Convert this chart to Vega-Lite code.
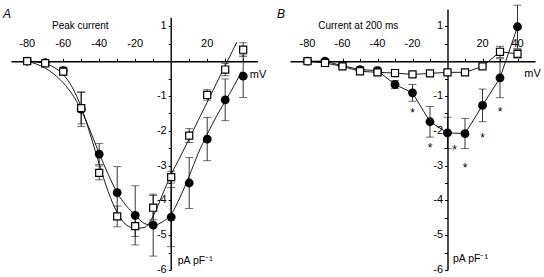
{
  "$schema": "https://vega.github.io/schema/vega-lite/v6.json",
  "padding": {"left": 3, "top": 4, "right": 0, "bottom": 0},
  "bounds": "flush",
  "spacing": 32,
  "config": {
    "view": {"stroke": null},
    "font": "Liberation Sans",
    "axis": {"tickColor": "black", "domainColor": "black", "titleColor": "black", "grid": false, "labels": false, "titleFontWeight": "normal", "titleFontSize": 11, "tickSize": 3, "tickWidth": 1, "domainWidth": 1.4, "labelOverlap": false, "tickCount": 100}
  },
  "datasets": {
    "xlab": [
      {"v": -80, "t": "-80"}, {"v": -60, "t": "-60"}, {"v": -40, "t": "-40"}, {"v": -20, "t": "-20"}, {"v": 20, "t": "20"}, {"v": 40, "t": "40"}
    ],
    "ylab": [
      {"v": -6, "t": "-6"}, {"v": -5, "t": "-5"}, {"v": -4, "t": "-4"}, {"v": -3, "t": "-3"}, {"v": -2, "t": "-2"}, {"v": -1, "t": "-1"}, {"v": 1, "t": "1"}
    ],
    "pk": [
      {"mv": -80, "g": "c", "i": 0, "lo": 0, "hi": 0},
      {"mv": -70, "g": "c", "i": -0.04, "lo": -0.04, "hi": -0.04},
      {"mv": -60, "g": "c", "i": -0.27, "lo": -0.37, "hi": -0.17},
      {"mv": -50, "g": "c", "i": -1.38, "lo": -1.88, "hi": -0.88},
      {"mv": -40, "g": "c", "i": -2.67, "lo": -2.97, "hi": -2.37},
      {"mv": -30, "g": "c", "i": -3.78, "lo": -4.53, "hi": -3.03},
      {"mv": -20, "g": "c", "i": -4.43, "lo": -5.28, "hi": -3.58},
      {"mv": -10, "g": "c", "i": -4.71, "lo": -5.6, "hi": -3.82},
      {"mv": 0, "g": "c", "i": -4.48, "lo": -5.33, "hi": -3.63},
      {"mv": 10, "g": "c", "i": -3.5, "lo": -4.23, "hi": -2.77},
      {"mv": 20, "g": "c", "i": -2.24, "lo": -2.86, "hi": -1.62},
      {"mv": 30, "g": "c", "i": -1.11, "lo": -1.71, "hi": -0.51},
      {"mv": 40, "g": "c", "i": -0.43, "lo": -1.04, "hi": 0.18},
      {"mv": -80, "g": "s", "i": 0, "lo": 0, "hi": 0},
      {"mv": -70, "g": "s", "i": -0.06, "lo": -0.1, "hi": -0.02},
      {"mv": -60, "g": "s", "i": -0.3, "lo": -0.4, "hi": -0.2},
      {"mv": -50, "g": "s", "i": -1.35, "lo": -1.8, "hi": -0.9},
      {"mv": -40, "g": "s", "i": -3.21, "lo": -3.41, "hi": -3.01},
      {"mv": -30, "g": "s", "i": -4.46, "lo": -4.76, "hi": -4.16},
      {"mv": -20, "g": "s", "i": -4.74, "lo": -5.04, "hi": -4.44},
      {"mv": -10, "g": "s", "i": -4.21, "lo": -4.56, "hi": -3.86},
      {"mv": 0, "g": "s", "i": -3.33, "lo": -3.5, "hi": -3.16},
      {"mv": 10, "g": "s", "i": -2.14, "lo": -2.34, "hi": -1.94},
      {"mv": 20, "g": "s", "i": -0.97, "lo": -1.12, "hi": -0.82},
      {"mv": 30, "g": "s", "i": -0.24, "lo": -0.42, "hi": -0.06},
      {"mv": 40, "g": "s", "i": 0.33, "lo": 0.13, "hi": 0.53}
    ],
    "pkfit": [
      {"mv": -80, "g": "c", "i": 0},
      {"mv": -75, "g": "c", "i": -0.08},
      {"mv": -70, "g": "c", "i": -0.2},
      {"mv": -65, "g": "c", "i": -0.38},
      {"mv": -60, "g": "c", "i": -0.62},
      {"mv": -55, "g": "c", "i": -0.95},
      {"mv": -50, "g": "c", "i": -1.4},
      {"mv": -45, "g": "c", "i": -2.0},
      {"mv": -40, "g": "c", "i": -2.65},
      {"mv": -35, "g": "c", "i": -3.25},
      {"mv": -30, "g": "c", "i": -3.78},
      {"mv": -25, "g": "c", "i": -4.15},
      {"mv": -20, "g": "c", "i": -4.42},
      {"mv": -15, "g": "c", "i": -4.66},
      {"mv": -10, "g": "c", "i": -4.72},
      {"mv": -5, "g": "c", "i": -4.62},
      {"mv": 0, "g": "c", "i": -4.4},
      {"mv": 5, "g": "c", "i": -3.9},
      {"mv": 10, "g": "c", "i": -3.3},
      {"mv": 15, "g": "c", "i": -2.65},
      {"mv": 20, "g": "c", "i": -2.1},
      {"mv": 25, "g": "c", "i": -1.6},
      {"mv": 30, "g": "c", "i": -1.15},
      {"mv": 35, "g": "c", "i": -0.7},
      {"mv": 39, "g": "c", "i": -0.3},
      {"mv": -80, "g": "s", "i": 0},
      {"mv": -75, "g": "s", "i": -0.02},
      {"mv": -70, "g": "s", "i": -0.07},
      {"mv": -65, "g": "s", "i": -0.18},
      {"mv": -60, "g": "s", "i": -0.38},
      {"mv": -55, "g": "s", "i": -0.75},
      {"mv": -50, "g": "s", "i": -1.32},
      {"mv": -45, "g": "s", "i": -2.1},
      {"mv": -40, "g": "s", "i": -2.95},
      {"mv": -35, "g": "s", "i": -3.75},
      {"mv": -30, "g": "s", "i": -4.35},
      {"mv": -25, "g": "s", "i": -4.7},
      {"mv": -20, "g": "s", "i": -4.8},
      {"mv": -15, "g": "s", "i": -4.78},
      {"mv": -10, "g": "s", "i": -4.45},
      {"mv": -5, "g": "s", "i": -3.85},
      {"mv": 0, "g": "s", "i": -3.25},
      {"mv": 5, "g": "s", "i": -2.75},
      {"mv": 10, "g": "s", "i": -2.23},
      {"mv": 15, "g": "s", "i": -1.7},
      {"mv": 20, "g": "s", "i": -1.18},
      {"mv": 25, "g": "s", "i": -0.65},
      {"mv": 30, "g": "s", "i": -0.13},
      {"mv": 36.5, "g": "s", "i": 0.55}
    ],
    "late": [
      {"mv": -80, "g": "c", "i": 0, "lo": 0, "hi": 0},
      {"mv": -70, "g": "c", "i": 0, "lo": -0.03, "hi": 0.03},
      {"mv": -60, "g": "c", "i": -0.13, "lo": -0.18, "hi": -0.08},
      {"mv": -50, "g": "c", "i": -0.24, "lo": -0.32, "hi": -0.16},
      {"mv": -40, "g": "c", "i": -0.27, "lo": -0.37, "hi": -0.17},
      {"mv": -30, "g": "c", "i": -0.67, "lo": -0.79, "hi": -0.55},
      {"mv": -20, "g": "c", "i": -0.91, "lo": -1.15, "hi": -0.67},
      {"mv": -10, "g": "c", "i": -1.74, "lo": -2.18, "hi": -1.3},
      {"mv": 0, "g": "c", "i": -2.06, "lo": -2.51, "hi": -1.61},
      {"mv": 10, "g": "c", "i": -2.08, "lo": -2.51, "hi": -1.65},
      {"mv": 20, "g": "c", "i": -1.27, "lo": -1.74, "hi": -0.8},
      {"mv": 30, "g": "c", "i": -0.48, "lo": -1.05, "hi": 0.07},
      {"mv": 40, "g": "c", "i": 0.99, "lo": 0.37, "hi": 1.61},
      {"mv": -80, "g": "s", "i": 0, "lo": -0.03, "hi": 0.03},
      {"mv": -70, "g": "s", "i": -0.05, "lo": -0.1, "hi": 0},
      {"mv": -60, "g": "s", "i": -0.15, "lo": -0.2, "hi": -0.1},
      {"mv": -50, "g": "s", "i": -0.29, "lo": -0.37, "hi": -0.21},
      {"mv": -40, "g": "s", "i": -0.32, "lo": -0.4, "hi": -0.24},
      {"mv": -30, "g": "s", "i": -0.34, "lo": -0.42, "hi": -0.26},
      {"mv": -20, "g": "s", "i": -0.38, "lo": -0.44, "hi": -0.32},
      {"mv": -10, "g": "s", "i": -0.35, "lo": -0.4, "hi": -0.3},
      {"mv": 0, "g": "s", "i": -0.32, "lo": -0.37, "hi": -0.27},
      {"mv": 10, "g": "s", "i": -0.32, "lo": -0.37, "hi": -0.27},
      {"mv": 20, "g": "s", "i": -0.15, "lo": -0.2, "hi": -0.1},
      {"mv": 30, "g": "s", "i": 0.27, "lo": 0.11, "hi": 0.43},
      {"mv": 40, "g": "s", "i": 0.21, "lo": 0.09, "hi": 0.33}
    ],
    "stars": [
      {"mv": -20, "i": -1.39},
      {"mv": -10, "i": -2.42},
      {"mv": 4, "i": -2.47},
      {"mv": 10, "i": -2.97},
      {"mv": 20, "i": -2.11},
      {"mv": 30, "i": -1.36}
    ]
  },
  "hconcat": [
    {
      "width": 246.6,
      "height": 261,
      "layer": [
        {
          "data": {"name": "pk"},
          "mark": {"type": "rule", "strokeWidth": 0.8, "color": "black"},
          "encoding": {
            "x": {"field": "mv", "type": "quantitative", "scale": {"domain": [-89, 48], "nice": false, "zero": false},
              "axis": {"orient": "top", "offset": -52.2, "labels": false, "tickCount": 100, "values": [-80, -70, -60, -50, -40, -30, -20, -10, 10, 20, 30, 40], "title": "mV", "titleX": 246.6, "titleY": 16, "titleAlign": "center", "titleBaseline": "alphabetic"}},
            "y": {"field": "lo", "type": "quantitative", "scale": {"domain": [-6, 1.5], "nice": false, "zero": false},
              "axis": {"orient": "left", "offset": -160.2, "labels": false, "tickCount": 100, "domain": false, "values": [-6, -5.5, -5, -4.5, -4, -3.5, -3, -2.5, -2, -1.5, -1, -0.5, 0.5, 1], "title": "pA pF⁻¹", "titleAngle": 0, "titleX": 6, "titleY": 254, "titleAlign": "left", "titleBaseline": "alphabetic", "titleFontSize": 10.5}},
            "y2": {"field": "hi"}
          }
        },
        {
          "data": {"name": "pk"},
          "mark": {"type": "tick", "orient": "horizontal", "size": 8, "thickness": 0.8, "color": "black"},
          "encoding": {"x": {"field": "mv", "type": "quantitative", "title": "mV"}, "y": {"field": "lo", "type": "quantitative", "title": "pA pF⁻¹"}}
        },
        {
          "data": {"name": "pk"},
          "mark": {"type": "tick", "orient": "horizontal", "size": 8, "thickness": 0.8, "color": "black"},
          "encoding": {"x": {"field": "mv", "type": "quantitative", "title": "mV"}, "y": {"field": "hi", "type": "quantitative", "title": "pA pF⁻¹"}}
        },
        {
          "data": {"values": [{"y0": -6, "y1": 1.25, "x0": 0}]},
          "mark": {"type": "rule", "strokeWidth": 1.4, "color": "black"},
          "encoding": {"x": {"field": "x0", "type": "quantitative", "title": "mV"}, "y": {"field": "y0", "type": "quantitative", "title": "pA pF⁻¹"}, "y2": {"field": "y1"}}
        },
        {
          "data": {"name": "pkfit"},
          "mark": {"type": "line", "interpolate": "monotone", "strokeWidth": 0.9, "color": "black"},
          "encoding": {"x": {"field": "mv", "type": "quantitative", "title": "mV"}, "y": {"field": "i", "type": "quantitative", "title": "pA pF⁻¹"}, "detail": {"field": "g"}}
        },
        {
          "data": {"name": "pk"},
          "transform": [{"filter": "datum.g == 'c'"}],
          "mark": {"type": "point", "shape": "circle", "filled": true, "size": 78, "color": "black", "opacity": 1},
          "encoding": {"x": {"field": "mv", "type": "quantitative", "title": "mV"}, "y": {"field": "i", "type": "quantitative", "title": "pA pF⁻¹"}}
        },
        {
          "data": {"name": "pk"},
          "transform": [{"filter": "datum.g == 's'"}],
          "mark": {"type": "point", "shape": "square", "filled": false, "fill": "white", "fillOpacity": 1, "stroke": "black", "strokeWidth": 1.2, "size": 50, "opacity": 1},
          "encoding": {"x": {"field": "mv", "type": "quantitative", "title": "mV"}, "y": {"field": "i", "type": "quantitative", "title": "pA pF⁻¹"}}
        },
        {
          "data": {"values": [{"label": "Peak current", "lx": -50.5, "ly": 1.0}]},
          "mark": {"type": "text", "fontSize": 10, "color": "black"},
          "encoding": {"x": {"field": "lx", "type": "quantitative", "title": "mV"}, "y": {"field": "ly", "type": "quantitative", "title": "pA pF⁻¹"}, "text": {"field": "label"}}
        },
        {
          "data": {"values": [{"label": "A", "lx": -89, "ly": 1.5}]},
          "mark": {"type": "text", "fontSize": 12, "fontStyle": "italic", "align": "left", "baseline": "top", "dx": -8, "color": "black"},
          "encoding": {"x": {"field": "lx", "type": "quantitative", "title": "mV"}, "y": {"field": "ly", "type": "quantitative", "title": "pA pF⁻¹"}, "text": {"field": "label"}}
        },
        {
          "data": {"name": "xlab"},
          "transform": [{"filter": "datum.v != 40"}],
          "mark": {"type": "text", "fontSize": 11, "align": "center", "baseline": "alphabetic", "dy": -7, "color": "black"},
          "encoding": {"x": {"field": "v", "type": "quantitative", "title": "mV"}, "y": {"value": 45.2}, "text": {"field": "t"}}
        },
        {
          "data": {"name": "ylab"},
          "mark": {"type": "text", "fontSize": 11, "align": "right", "baseline": "middle", "dx": -4.5, "color": "black"},
          "encoding": {"x": {"value": 160.2}, "y": {"field": "v", "type": "quantitative", "title": "pA pF⁻¹"}, "text": {"field": "t"}}
        }
      ]
    },
    {
      "width": 245,
      "height": 261,
      "layer": [
        {
          "data": {"name": "late"},
          "mark": {"type": "rule", "strokeWidth": 0.8, "color": "black"},
          "encoding": {
            "x": {"field": "mv", "type": "quantitative", "scale": {"domain": [-90, 50], "nice": false, "zero": false},
              "axis": {"orient": "top", "offset": -52.2, "labels": false, "tickCount": 100, "values": [-80, -70, -60, -50, -40, -30, -20, -10, 10, 20, 30, 40], "title": "mV", "titleX": 242, "titleY": 15, "titleAlign": "center", "titleBaseline": "alphabetic"}},
            "y": {"field": "lo", "type": "quantitative", "scale": {"domain": [-6, 1.5], "nice": false, "zero": false},
              "axis": {"orient": "left", "offset": -157.5, "labels": false, "tickCount": 100, "values": [-6, -5.5, -5, -4.5, -4, -3.5, -3, -2.5, -2, -1.5, -1, -0.5, 0.5, 1], "title": "pA pF⁻¹", "titleAngle": 0, "titleX": 5, "titleY": 252, "titleAlign": "left", "titleBaseline": "alphabetic", "titleFontSize": 10.5}},
            "y2": {"field": "hi"}
          }
        },
        {
          "data": {"name": "xlab"},
          "mark": {"type": "text", "fontSize": 11, "align": "center", "baseline": "alphabetic", "dy": -7, "color": "black"},
          "encoding": {"x": {"field": "v", "type": "quantitative", "title": "mV"}, "y": {"value": 45.2}, "text": {"field": "t"}}
        },
        {
          "data": {"name": "late"},
          "mark": {"type": "tick", "orient": "horizontal", "size": 8, "thickness": 0.8, "color": "black"},
          "encoding": {"x": {"field": "mv", "type": "quantitative", "title": "mV"}, "y": {"field": "lo", "type": "quantitative", "title": "pA pF⁻¹"}}
        },
        {
          "data": {"name": "late"},
          "mark": {"type": "tick", "orient": "horizontal", "size": 8, "thickness": 0.8, "color": "black"},
          "encoding": {"x": {"field": "mv", "type": "quantitative", "title": "mV"}, "y": {"field": "hi", "type": "quantitative", "title": "pA pF⁻¹"}}
        },
        {
          "data": {"name": "late"},
          "mark": {"type": "line", "strokeWidth": 0.9, "color": "black"},
          "encoding": {"x": {"field": "mv", "type": "quantitative", "title": "mV"}, "y": {"field": "i", "type": "quantitative", "title": "pA pF⁻¹"}, "detail": {"field": "g"}}
        },
        {
          "data": {"name": "late"},
          "transform": [{"filter": "datum.g == 'c'"}],
          "mark": {"type": "point", "shape": "circle", "filled": true, "size": 78, "color": "black", "opacity": 1},
          "encoding": {"x": {"field": "mv", "type": "quantitative", "title": "mV"}, "y": {"field": "i", "type": "quantitative", "title": "pA pF⁻¹"}}
        },
        {
          "data": {"name": "late"},
          "transform": [{"filter": "datum.g == 's'"}],
          "mark": {"type": "point", "shape": "square", "filled": false, "fill": "white", "fillOpacity": 1, "stroke": "black", "strokeWidth": 1.2, "size": 50, "opacity": 1},
          "encoding": {"x": {"field": "mv", "type": "quantitative", "title": "mV"}, "y": {"field": "i", "type": "quantitative", "title": "pA pF⁻¹"}}
        },
        {
          "data": {"name": "stars"},
          "mark": {"type": "text", "text": "*", "fontSize": 12, "baseline": "middle", "dy": 3, "color": "black"},
          "encoding": {"x": {"field": "mv", "type": "quantitative", "title": "mV"}, "y": {"field": "i", "type": "quantitative", "title": "pA pF⁻¹"}}
        },
        {
          "data": {"values": [{"label": "Current at 200 ms", "lx": -51, "ly": 1.0}]},
          "mark": {"type": "text", "fontSize": 10, "color": "black"},
          "encoding": {"x": {"field": "lx", "type": "quantitative", "title": "mV"}, "y": {"field": "ly", "type": "quantitative", "title": "pA pF⁻¹"}, "text": {"field": "label"}}
        },
        {
          "data": {"values": [{"label": "B", "lx": -90, "ly": 1.5}]},
          "mark": {"type": "text", "fontSize": 12, "fontStyle": "italic", "align": "left", "baseline": "top", "dx": -13, "color": "black"},
          "encoding": {"x": {"field": "lx", "type": "quantitative", "title": "mV"}, "y": {"field": "ly", "type": "quantitative", "title": "pA pF⁻¹"}, "text": {"field": "label"}}
        },
        {
          "data": {"name": "ylab"},
          "mark": {"type": "text", "fontSize": 11, "align": "right", "baseline": "middle", "dx": -4.5, "color": "black"},
          "encoding": {"x": {"value": 157.5}, "y": {"field": "v", "type": "quantitative", "title": "pA pF⁻¹"}, "text": {"field": "t"}}
        }
      ]
    }
  ]
}
